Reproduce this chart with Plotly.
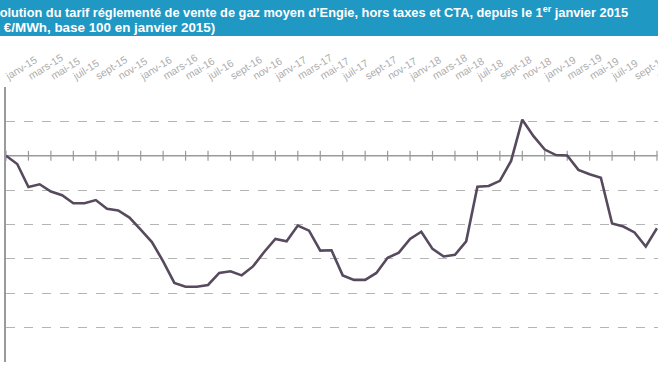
import plotly.graph_objects as go

# ---- data ----
month_names = ["janv", "févr", "mars", "avr", "mai", "juin", "juil", "août", "sept", "oct", "nov", "déc"]
years = ["15", "16", "17", "18", "19"]
categories = [f"{m}-{y}" for y in years for m in month_names][:59]  # janv-15 .. nov-19

index_values = [
    100.0, 97.6, 90.9, 91.7, 89.6, 88.5, 86.2, 86.2, 87.1, 84.6,
    84.1, 82.0, 78.5, 74.9, 69.3, 63.0, 61.9, 61.9, 62.4, 65.9,
    66.4, 65.2, 67.8, 72.0, 75.8, 75.1, 79.7, 78.2, 72.4, 72.5,
    65.2, 63.9, 63.9, 65.9, 70.3, 71.8, 75.8, 77.9, 72.9, 70.7,
    71.2, 75.1, 91.0, 91.2, 92.7, 98.5, 110.5, 105.7, 101.8, 100.2,
    100.1, 95.9, 94.6, 93.6, 80.3, 79.4, 77.7, 73.6, 78.9,
]
tick_labels = categories[::2]
BASE = 100
Y_MIN, Y_MAX, Y_STEP = 40, 120, 10

title_line1 = "Évolution du tarif réglementé de vente de gaz moyen d’Engie, hors taxes et CTA, depuis le 1<sup>er</sup> janvier 2015"
title_line2 = "(en €/MWh, base 100 en janvier 2015)"

# ---- layout constants ----
W, H = 658, 370
ML, MR, MT, MB = 6, 0, 87, 8
plot_h = H - MT - MB
plot_w = W - ML - MR

def py(px_y):
    return (H - MB - px_y) / plot_h

def px(px_x):
    return (px_x - ML) / plot_w

fig = go.Figure()

# base-100 axis line with tick marks
fig.add_trace(go.Scatter(
    x=categories, y=[BASE] * len(categories), mode="lines",
    line=dict(color="#9a9a9a", width=1.3), hoverinfo="skip", showlegend=False,
))
fig.add_trace(go.Scatter(
    x=tick_labels, y=[BASE] * len(tick_labels), mode="markers",
    marker=dict(symbol="line-ns", size=7, line=dict(color="#9a9a9a", width=1.2)),
    hoverinfo="skip", showlegend=False,
))

fig.add_trace(go.Scatter(
    x=categories, y=index_values, mode="lines",
    line=dict(color="#574a5e", width=2.6), showlegend=False,
))

title_font1 = dict(family="Liberation Sans, Arial", size=12.8, color="white", weight="bold")
title_font2 = dict(family="Liberation Sans, Arial", size=13.4, color="white", weight="bold")

fig.update_layout(
    width=W, height=H,
    margin=dict(l=ML, r=MR, t=MT, b=MB, autoexpand=False),
    paper_bgcolor="white", plot_bgcolor="white",
    xaxis=dict(
        type="category", categoryorder="array", categoryarray=categories,
        side="top", range=[0, plot_w / 11.224], automargin=False,
        tickvals=tick_labels, ticktext=tick_labels, tickangle=-32,
        ticklabelstandoff=3,
        tickfont=dict(family="Liberation Sans, Arial", size=10.5, color="#acacac"),
        showgrid=False, showline=False, zeroline=False, ticks="",
    ),
    yaxis=dict(
        range=[Y_MIN, Y_MAX], dtick=Y_STEP, tick0=Y_MIN, automargin=False,
        showgrid=True, gridcolor="#b4b4b4", griddash="dash", gridwidth=1,
        showticklabels=False, ticks="", zeroline=False,
        showline=True, linecolor="#9a9a9a", linewidth=1.5,
    ),
    shapes=[dict(
        type="rect", xref="paper", yref="paper",
        x0=px(-5), x1=px(W + 5), y0=py(36), y1=py(-5),
        fillcolor="#1f98c4", line=dict(width=0), layer="below",
    )],
    annotations=[
        dict(text=title_line1, xref="paper", yref="paper", x=px(-18.5), y=py(12),
             xanchor="left", yanchor="middle", showarrow=False, font=title_font1),
        dict(text=title_line2, xref="paper", yref="paper", x=px(-22), y=py(28),
             xanchor="left", yanchor="middle", showarrow=False, font=title_font2),
    ],
)

fig.write_html(
    "out.html",
    config={"displayModeBar": False},
    post_script="document.body.style.margin='0';document.body.style.overflow='hidden';",
)
